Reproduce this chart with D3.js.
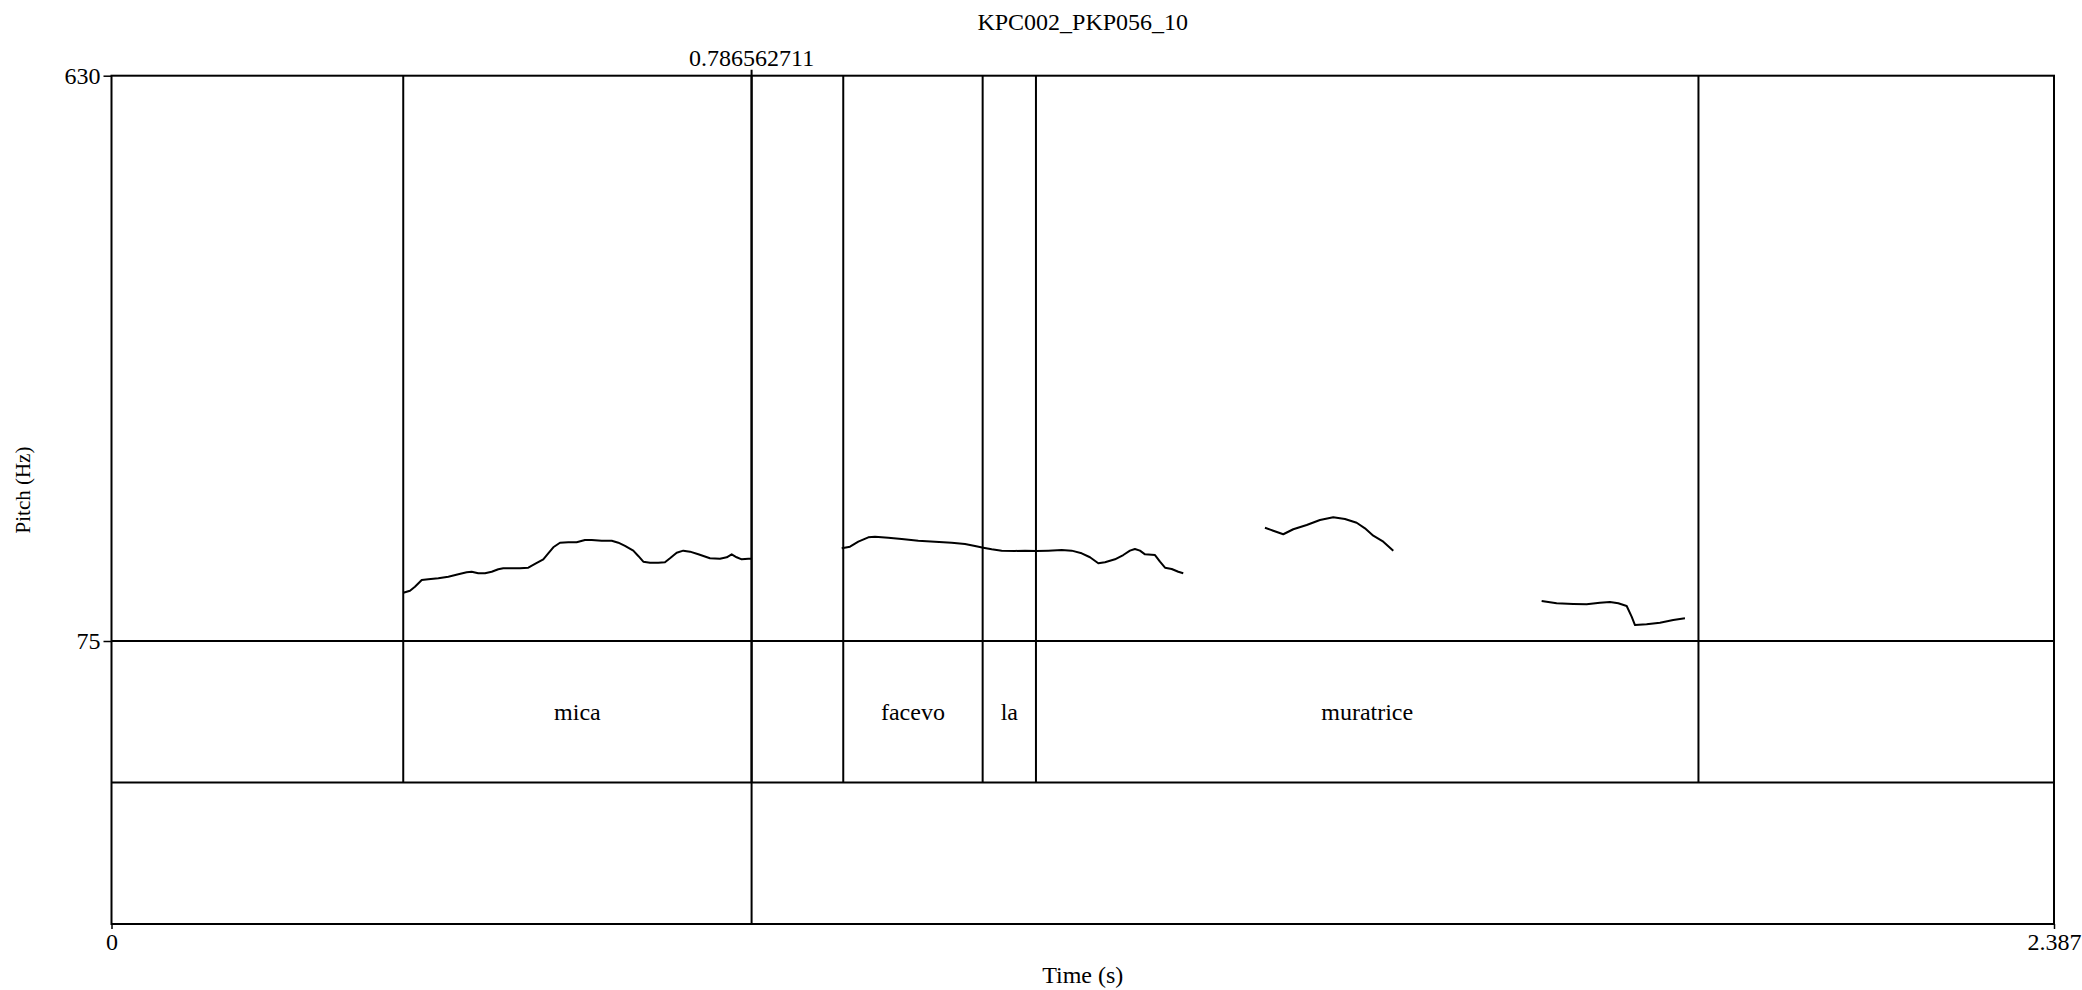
<!DOCTYPE html>
<html>
<head>
<meta charset="utf-8">
<script src="https://cdn.jsdelivr.net/npm/d3@7"></script>
<style>
  html, body { margin: 0; padding: 0; background: #fff; }
  svg { display: block; }
  text { font-family: "Liberation Serif", "Times New Roman", serif; fill: #000; }
</style>
</head>
<body>
<svg id="chart" width="2082" height="990"></svg>
<script>
// ---------------- DATA ----------------
const title = "KPC002_PKP056_10";
const timeDomain = [0, 2.387];
const pitchDomain = [75, 630];
const pitchTicks = [75, 630];
const timeTicks = [0, 2.387];
const xLabel = "Time (s)";
const yLabel = "Pitch (Hz)";

// Interval tier (words): [label, start, end]
const wordLabels = ["", "mica", "", "facevo", "la", "muratrice", ""];
const wordStarts = [0, 0.3585, 0.786562711, 0.8992, 1.0705, 1.1360, 1.9501];
const wordEnds   = [0.3585, 0.786562711, 0.8992, 1.0705, 1.1360, 1.9501, 2.387];

// Point tier
const pointTimes = [0.786562711];
const pointTimeLabel = "0.786562711";

// Pitch contour segments: time (s) and F0 (Hz)
const seg1Time = [0.3586,0.3668,0.3729,0.3812,0.3893,0.4016,0.4139,0.4262,0.4365,0.4426,0.4507,0.4590,0.4672,0.4753,0.4814,0.4918,0.5020,0.5122,0.5204,0.5306,0.5367,0.5429,0.5511,0.5613,0.5716,0.5818,0.5901,0.6024,0.6147,0.6228,0.6310,0.6412,0.6473,0.6535,0.6617,0.6719,0.6801,0.6863,0.6945,0.7026,0.7109,0.7211,0.7354,0.7477,0.7560,0.7621,0.7682,0.7744,0.7825,0.7866];
const seg1Hz   = [122.4,124.4,128.3,134.9,135.6,136.6,138.1,140.5,142.4,143.0,141.5,141.5,143.0,145.4,146.4,146.4,146.4,147.0,150.6,155.2,161.1,167.0,171.5,171.9,171.9,174.2,174.2,173.5,173.5,171.5,168.3,163.7,158.5,152.9,151.9,151.9,152.3,156.2,161.7,163.7,162.7,160.1,156.2,155.8,157.2,160.1,157.2,155.2,155.8,155.8];

const seg2Time = [0.8973,0.9075,0.9177,0.9300,0.9382,0.9545,0.9710,0.9914,1.0119,1.0324,1.0488,1.0611,1.0713,1.0816,1.0939,1.1102,1.1225,1.1369,1.1511,1.1676,1.1799,1.1922,1.2024,1.2126,1.2208,1.2331,1.2433,1.2515,1.2576,1.2638,1.2700,1.2823,1.2884,1.2946,1.3028,1.3109,1.3170];
const seg2Hz   = [166.0,167.6,172.5,176.8,177.4,176.4,175.1,173.5,172.5,171.5,170.2,168.3,166.6,165.0,163.7,163.4,163.7,163.4,163.7,164.3,163.7,161.1,157.2,151.3,152.3,155.2,159.4,163.7,165.3,163.7,160.1,159.4,152.9,147.0,145.7,143.0,141.5];

const seg3Time = [1.4174,1.4276,1.4399,1.4522,1.4687,1.4850,1.5013,1.5157,1.5301,1.5403,1.5505,1.5628,1.5751];
const seg3Hz   = [186.2,183.3,179.8,184.7,188.9,193.8,196.4,194.8,191.1,185.6,178.4,172.5,163.7];

const seg4Time = [1.7574,1.7758,1.7962,1.8127,1.8290,1.8413,1.8516,1.8619,1.8680,1.8721,1.8864,1.9028,1.9191,1.9335];
const seg4Hz   = [114.3,112.0,111.3,111.0,112.6,113.3,112.0,109.4,98.9,90.7,91.4,93.0,95.6,97.3];

// ---------------- LAYOUT ----------------
const L = 111.5, R = 2054, T = 75.7, B = 924;
const pitchBottom = 641, tierSplit = 783;
const FS = 24;

const svg = d3.select("#chart");
svg.append("rect").attr("width", 2082).attr("height", 990).attr("fill", "#fff");

const x = d3.scaleLinear().domain(timeDomain).range([L, R]);
const y = d3.scaleLinear().domain(pitchDomain).range([pitchBottom, T]);
// tier rows
const tierY = d3.scaleBand().domain(["words", "points"]).range([pitchBottom, B]).padding(0);

const strokeW = 2;

// Pitch contour
const line = d3.line().x(d => x(d[0])).y(d => y(d[1]));
const segments = [
  d3.zip(seg1Time, seg1Hz),
  d3.zip(seg2Time, seg2Hz),
  d3.zip(seg3Time, seg3Hz),
  d3.zip(seg4Time, seg4Hz)
];
svg.append("g").selectAll("path").data(segments).join("path")
  .attr("d", line)
  .attr("fill", "none")
  .attr("stroke", "#000")
  .attr("stroke-width", 2)
  .attr("stroke-linejoin", "round");

// Interval tier boundaries (interior boundaries only)
const words = wordLabels.map((l, i) => ({label: l, start: wordStarts[i], end: wordEnds[i]}));
const boundaries = wordStarts.filter(t => t > timeDomain[0]);
svg.append("g").selectAll("line").data(boundaries).join("line")
  .attr("x1", d => x(d)).attr("x2", d => x(d))
  .attr("y1", T).attr("y2", tierY("words") + tierY.bandwidth())
  .attr("stroke", "#000").attr("stroke-width", strokeW);

// Word labels
svg.append("g").selectAll("text").data(words.filter(d => d.label)).join("text")
  .attr("x", d => x((d.start + d.end) / 2))
  .attr("y", tierY("words") + tierY.bandwidth() / 2)
  .attr("dy", "0.35em")
  .attr("text-anchor", "middle")
  .attr("font-size", FS)
  .text(d => d.label);

// Point tier lines
svg.append("g").selectAll("line").data(pointTimes).join("line")
  .attr("x1", d => x(d)).attr("x2", d => x(d))
  .attr("y1", T - 6).attr("y2", B)
  .attr("stroke", "#000").attr("stroke-width", strokeW);

// Point time label above frame
svg.append("g").selectAll("text").data(pointTimes).join("text")
  .attr("x", d => x(d))
  .attr("y", T - 10)
  .attr("text-anchor", "middle")
  .attr("font-size", FS)
  .text(pointTimeLabel);

// Frame and tier separators
svg.append("rect")
  .attr("x", L).attr("y", T).attr("width", R - L).attr("height", B - T)
  .attr("fill", "none").attr("stroke", "#000").attr("stroke-width", strokeW);
svg.append("g").selectAll("line").data([pitchBottom, tierY("points")]).join("line")
  .attr("x1", L).attr("x2", R).attr("y1", d => d).attr("y2", d => d)
  .attr("stroke", "#000").attr("stroke-width", strokeW);

// Y axis
const yAxis = d3.axisLeft(y).tickValues(pitchTicks).tickSize(8).tickSizeOuter(0).tickPadding(3).tickFormat(d3.format("d"));
const gy = svg.append("g").attr("transform", `translate(${L},0)`).call(yAxis);
gy.select(".domain").remove();
gy.selectAll("text").attr("font-size", FS).attr("font-family", "Liberation Serif, serif").attr("fill", "#000");
gy.selectAll("line").attr("stroke", "#000").attr("stroke-width", 1.5);

// X axis
const xAxis = d3.axisBottom(x).tickValues(timeTicks).tickSize(5).tickSizeOuter(0).tickPadding(4).tickFormat(d => d === 0 ? "0" : d3.format(".3f")(d));
const gx = svg.append("g").attr("transform", `translate(0,${B})`).call(xAxis);
gx.select(".domain").remove();
gx.selectAll("text").attr("font-size", FS).attr("font-family", "Liberation Serif, serif").attr("fill", "#000");
gx.selectAll("line").attr("stroke", "#000").attr("stroke-width", 1.5);

// Titles
svg.append("text")
  .attr("x", (L + R) / 2).attr("y", 30)
  .attr("text-anchor", "middle").attr("font-size", FS)
  .text(title);
svg.append("text")
  .attr("x", (L + R) / 2).attr("y", 983)
  .attr("text-anchor", "middle").attr("font-size", FS)
  .text(xLabel);
svg.append("text")
  .attr("transform", `translate(30,490) rotate(-90)`)
  .attr("text-anchor", "middle").attr("font-size", 21)
  .text(yLabel);
</script>
</body>
</html>
